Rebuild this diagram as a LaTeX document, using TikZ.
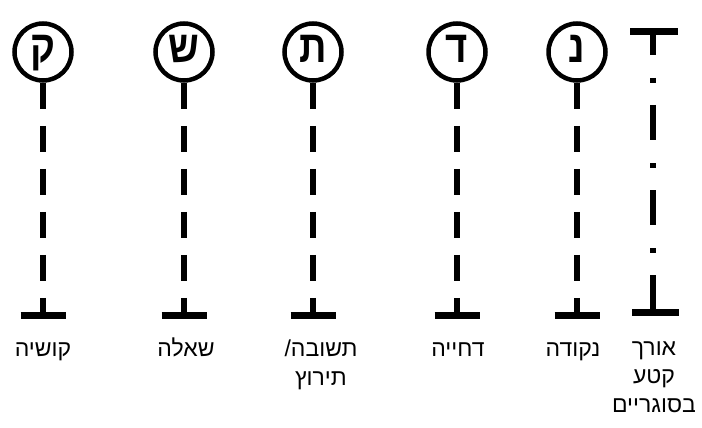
\documentclass[tikz,border=0pt]{standalone}
\usepackage{fontspec}
\setmainfont{Liberation Sans}
\newfontfamily\hebfont[Script=Hebrew]{Liberation Sans}
\newfontfamily\hebbold[Script=Hebrew,FakeStretch=0.85]{Liberation Sans Bold}
\TeXXeTstate=1
\newcommand{\rl}[1]{\beginR#1\endR}

\begin{document}
\begin{tikzpicture}[x=1pt, y=-1pt,
  letter/.style={circle, draw, line width=4.5pt, minimum size=57pt, inner sep=0pt, text height=29pt, text depth=7pt, font=\hebbold\fontsize{45}{45}\selectfont},
  stem/.style={line width=5.5pt, dash pattern=on 26pt off 17pt},
  bar/.style={line width=7pt},
  lbl/.style={anchor=base, align=center, inner sep=0pt, font=\hebfont\fontsize{23}{28.5}\selectfont}]

  \useasboundingbox (0,0) rectangle (702,428);

  % Circles with stems and feet
  \foreach \n/\x/\t in {q/43/ק, s/184/ש, t/313/ת, d/457/ד, n/577/נ}{
    \node[letter] (c-\n) at (\x,52) {\rl{\t}};
    \coordinate (f-\n) at (\x,315);
    \draw[stem] (c-\n.south) -- (f-\n);
    \draw[bar] ([xshift=-22.5pt] f-\n) -- ([xshift=22.5pt] f-\n);
  }

  % Bracket column
  \coordinate (b-top) at (653,31.5);
  \coordinate (b-bot) at (653,312.5);
  \draw[bar] ([xshift=-23pt] b-top) -- ([xshift=25pt] b-top);
  \draw[line width=5.5pt, dash pattern=on 35pt off 23pt on 5pt off 22pt, dash phase=11.5pt] (b-top) -- (b-bot);
  \draw[bar] ([xshift=-21pt] b-bot) -- ([xshift=26pt] b-bot);

  % Labels (anchored at the baseline of the last line)
  \node[lbl] (l-q) at (43,356) {\rl{קושיה}};
  \node[lbl] (l-s) at (186,356) {\rl{שאלה}};
  \node[lbl] (l-t) at (321,385) {\rl{תשובה/}\\\rl{תירוץ}};
  \node[lbl] (l-d) at (458,356) {\rl{דחייה}};
  \node[lbl] (l-n) at (573,356) {\rl{נקודה}};
  \node[lbl] (l-b) at (654,412) {\rl{אורך}\\\rl{קטע}\\\rl{בסוגריים}};
\end{tikzpicture}
\end{document}
